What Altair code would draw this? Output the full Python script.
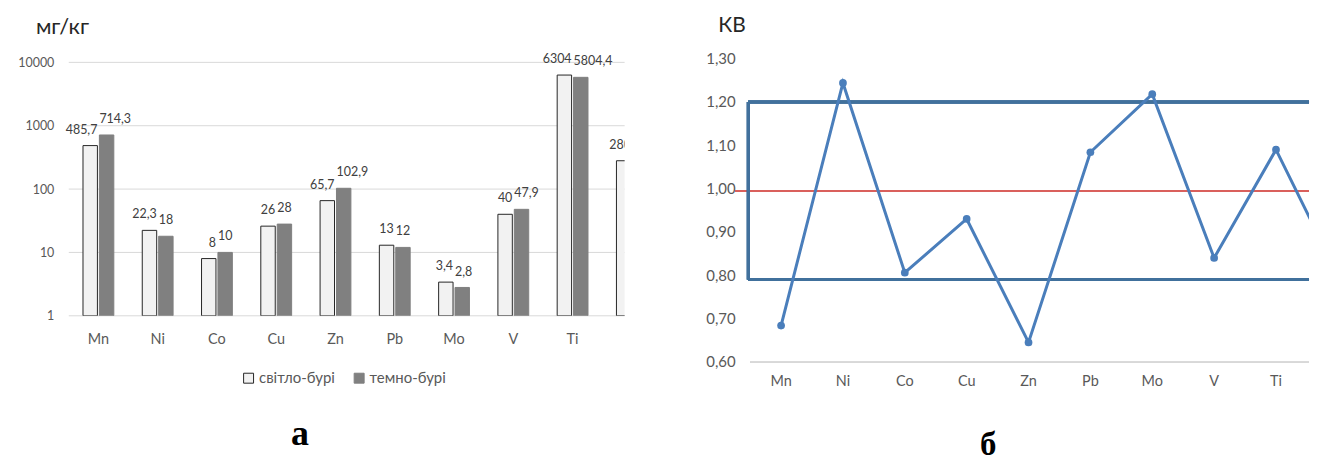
import altair as alt
import pandas as pd

# ---------------- data ----------------
elements = ["Mn", "Ni", "Co", "Cu", "Zn", "Pb", "Mo", "V", "Ti", "Ba"]
light_brown = [485.7, 22.3, 8, 26, 65.7, 13, 3.4, 40, 6304, 280]
dark_brown = [714.3, 18, 10, 28, 102.9, 12, 2.8, 47.9, 5804.4]
kv_values = [0.684, 1.244, 0.806, 0.93, 0.645, 1.084, 1.218, 0.84, 1.09, 0.80]
series_names = ["світло-бурі", "темно-бурі"]
y_ticks_left = [1, 10, 100, 1000, 10000]
y_ticks_right = [0.6, 0.7, 0.8, 0.9, 1.0, 1.1, 1.2, 1.3]
band_low, band_high, ref_level = 0.79, 1.20, 0.995
unit_left, unit_right = "мг/кг", "КВ"
captions = ["а", "б"]

FONT = "Lato"
LBL = "#595959"
TXT = "#404040"

rows = []
for e, v in zip(elements, light_brown):
    rows.append({"el": e, "series": series_names[0], "value": v})
for e, v in zip(elements, dark_brown):
    rows.append({"el": e, "series": series_names[1], "value": v})
bars_df = pd.DataFrame(rows)
kv_df = pd.DataFrame({"el": elements, "kv": kv_values})
shown_cats = pd.DataFrame({"el": elements[:9]})
left_ticks_df = pd.DataFrame({"value": y_ticks_left})

# ---------------- left panel ----------------
DECADE = 63.6
TOPGAP = 3.7
LW, LH = 558, 4 * DECADE + TOPGAP
y_max = 10 ** (4 + TOPGAP / DECADE)

x_left = alt.X(
    "el:N", sort=elements,
    scale=alt.Scale(domain=elements, range=[0, 595], paddingInner=0.48, paddingOuter=0.24),
    axis=None,
)
y_left = alt.Y(
    "value:Q",
    scale=alt.Scale(type="log", domain=[1, y_max], nice=False),
    axis=alt.Axis(values=y_ticks_left, format="d", grid=False,
                  domain=False, ticks=False, tickSize=0, labelPadding=15, labelFontSize=12.5,
                  labelColor=LBL, labelFont=FONT, title=None),
)
legend_cfg = alt.Legend(orient="none", legendX=173, legendY=313, direction="horizontal", title=None,
                        symbolType="square", symbolSize=100, symbolStrokeWidth=1,
                        labelFontSize=15, labelFont=FONT, labelColor=LBL, columnPadding=16,
                        labelOffset=3)
grid_left = alt.Chart(left_ticks_df).mark_rule(color="#d9d9d9", strokeWidth=1).encode(y=y_left)
bars = alt.Chart(bars_df).mark_bar(clip=True, strokeWidth=1).encode(
    x=x_left,
    xOffset=alt.XOffset("series:N", sort=series_names, scale=alt.Scale(domain=series_names, paddingInner=0.12)),
    y=y_left,
    y2=alt.Y2(datum=1),
    fill=alt.Fill("series:N", sort=series_names,
                  scale=alt.Scale(domain=series_names, range=["#f2f2f2", "#808080"]), legend=legend_cfg),
    stroke=alt.Stroke("series:N", sort=series_names,
                      scale=alt.Scale(domain=series_names, range=["#262626", "#808080"]), legend=legend_cfg),
)
lbl_expr = "replace(toString(datum.value), '.', ',')"
last = elements[-1]
txt_light = alt.Chart(bars_df).transform_filter(
    f"datum.series == '{series_names[0]}' && datum.el != '{last}'"
).transform_calculate(lbl=lbl_expr).mark_text(
    align="right", baseline="alphabetic", dx=-1, dy=-12, fontSize=12.5, font=FONT, color=TXT
).encode(x=x_left, y=y_left, text="lbl:N")
txt_light_last = alt.Chart(bars_df).transform_filter(
    f"datum.series == '{series_names[0]}' && datum.el == '{last}'"
).transform_calculate(lbl=lbl_expr).mark_text(
    align="right", baseline="alphabetic", dx=-1, dy=-12, fontSize=12.5, font=FONT, color=TXT, clip=True
).encode(x=x_left, y=y_left, text="lbl:N")
txt_dark = alt.Chart(bars_df).transform_filter(
    f"datum.series == '{series_names[1]}'"
).transform_calculate(lbl=lbl_expr).mark_text(
    align="left", baseline="alphabetic", dx=1, dy=-12, fontSize=12.5, font=FONT, color=TXT
).encode(x=x_left, y=y_left, text="lbl:N")
cat_left = alt.Chart(shown_cats).mark_text(
    baseline="top", fontSize=14.5, font=FONT, color=LBL
).encode(x=x_left, y=alt.value(LH + 17.5), text="el:N")
unit_l = alt.Chart(pd.DataFrame({"t": [unit_left]})).mark_text(
    align="left", baseline="alphabetic", fontSize=22, font=FONT, color="#262626"
).encode(text="t:N", x=alt.value(-33), y=alt.value(-25))
cap_a = alt.Chart(pd.DataFrame({"t": [captions[0]]})).mark_text(
    font="Liberation Serif", fontWeight="bold", fontSize=36, color="#000000",
    align="center", baseline="alphabetic"
).encode(text="t:N", x=alt.value(232), y=alt.value(446 - 58.3))

left = alt.layer(grid_left, bars, txt_light, txt_light_last, txt_dark, cat_left, unit_l, cap_a).properties(
    width=LW, height=LH)

# ---------------- right panel ----------------
RW, RH = 561, 304.4
BLUE = "#4a7ebb"
DARKBLUE = "#41719c"
y_scale_r = alt.Scale(domain=[0.6, 1.3], nice=False, zero=False)
x_right = alt.X("el:N", sort=elements, scale=alt.Scale(domain=elements, range=[0, 621]), axis=None)
y_right = alt.Y(
    "kv:Q", scale=y_scale_r,
    axis=alt.Axis(values=y_ticks_right, labelExpr="replace(format(datum.value, '.2f'), '.', ',')",
                  grid=False, domain=False, ticks=False, tickSize=0, labelPadding=15,
                  labelFontSize=15, labelColor=LBL, labelFont=FONT, title=None),
)
base_r = alt.Chart(kv_df)
line = base_r.mark_line(color=BLUE, strokeWidth=3, clip=True).encode(x=x_right, y=y_right)
pts = base_r.mark_circle(color=BLUE, size=60, opacity=1, clip=True).encode(x=x_right, y=y_right)
grid06 = base_r.mark_rule(color="#d9d9d9", strokeWidth=1).encode(
    y=alt.Y(datum=y_ticks_right[0], type="quantitative", scale=y_scale_r))
red = base_r.mark_rule(color="#d9605c", strokeWidth=1.3).encode(
    y=alt.Y(datum=ref_level, type="quantitative", scale=y_scale_r),
    x=alt.value(-15), x2=alt.value(RW))
top_r = base_r.mark_rule(color=DARKBLUE, strokeWidth=2.5).encode(
    y=alt.Y(datum=band_high, type="quantitative", scale=y_scale_r),
    x=alt.value(-2), x2=alt.value(RW))
bot_r = base_r.mark_rule(color=DARKBLUE, strokeWidth=2.5).encode(
    y=alt.Y(datum=band_low, type="quantitative", scale=y_scale_r),
    x=alt.value(-2), x2=alt.value(RW))
side_r = base_r.mark_rule(color=DARKBLUE, strokeWidth=2.5).encode(
    y=alt.Y(datum=band_low, type="quantitative", scale=y_scale_r),
    y2=alt.Y2(datum=band_high),
    x=alt.value(-2))
cat_right = alt.Chart(shown_cats).mark_text(
    baseline="top", fontSize=14.5, font=FONT, color=LBL
).encode(x=x_right, y=alt.value(RH + 13.5), text="el:N")
unit_r = alt.Chart(pd.DataFrame({"t": [unit_right]})).mark_text(
    align="left", baseline="alphabetic", fontSize=21, font=FONT, color="#262626"
).encode(text="t:N", x=alt.value(-32), y=alt.value(-26.3))
cap_b = alt.Chart(pd.DataFrame({"t": [captions[1]]})).mark_text(
    font="Liberation Serif", fontWeight="bold", fontSize=33, color="#000000",
    align="center", baseline="alphabetic"
).encode(text="t:N", x=alt.value(239), y=alt.value(456 - 58.3))

right = alt.layer(grid06, red, top_r, bot_r, side_r, line, pts, cat_right, unit_r, cap_b).properties(
    width=RW, height=RH)

chart = alt.hconcat(left, right, spacing=80).properties(
    padding={"left": 9, "top": 6, "right": 0, "bottom": 0}
).configure(font=FONT).configure_view(stroke=None)

chart.save("out.html", embed_options={"renderer": "svg", "actions": False})
